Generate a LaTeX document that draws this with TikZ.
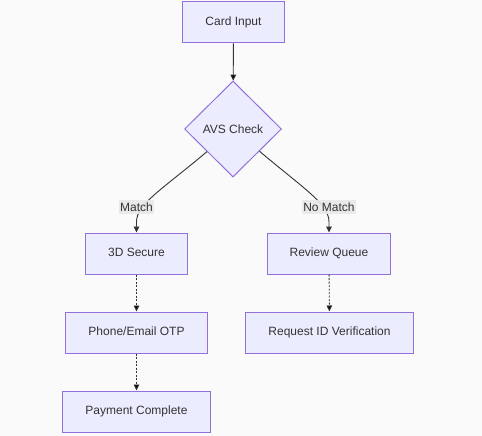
\documentclass[tikz,border=0pt]{standalone}
\usepackage{fontspec}
\setmainfont{Liberation Sans}
\usetikzlibrary{shapes.geometric,arrows.meta}
\definecolor{boxfill}{HTML}{ECECFF}
\definecolor{boxline}{HTML}{9370DB}
\definecolor{edgeline}{HTML}{333333}
\definecolor{lblfill}{HTML}{E8E8E8}
\definecolor{bgcol}{HTML}{FAFAFA}

\begin{document}
\begin{tikzpicture}[x=1pt, y=-1pt, font=\fontsize{12}{14}\selectfont, >={Triangle[length=6pt,width=5.5pt]}]
			\tikzstyle{stepbox}=[rectangle, draw=boxline, fill=boxfill, line width=1pt, minimum height=41pt, inner xsep=22.5pt, text height=9pt, text depth=2.5pt, text=edgeline]
			\tikzstyle{decision}=[diamond, aspect=1, draw=boxline, fill=boxfill, line width=1pt, minimum width=97pt, minimum height=96pt, inner sep=0pt, text=edgeline]
			\tikzstyle{flow}=[->, draw=edgeline, line width=0.9pt]
			\tikzstyle{dots}=[flow, dash pattern=on 2pt off 1.5pt]
			\tikzstyle{lbl}=[fill=lblfill, fill opacity=0.9, text opacity=1, inner xsep=1pt, inner ysep=3pt, text=edgeline]
			\fill[bgcol] (0,0) rectangle (482,436);
			\useasboundingbox (0,0) rectangle (482,436);
			
			\node[stepbox](card) at (233.5,22.5) {Card Input};
			\node[decision](avs) at (233,129) {AVS Check};
			\node[stepbox](sec3d) at (136.5,253.5) {3D Secure};
			\node[stepbox](otp) at (136.5,332.5) {Phone/Email OTP};
			\node[stepbox](pay) at (136.5,411.5) {Payment Complete};
			\node[stepbox](review) at (329,253.5) {Review Queue};
			\node[stepbox](idver) at (329.5,332.5) {Request ID Verification};
			
			\coordinate (m-bend) at (136.5,222);
			\coordinate (nm-bend) at (329,222);
			
			\path[flow] (card) edge (avs);
			\draw[flow] (avs.221) .. controls +(-45,38) and +(0,-18) .. (m-bend) -- (sec3d);
			\draw[flow] (avs.-40) .. controls +(45,38) and +(0,-18) .. (nm-bend) -- (review);
			\path[dots] (sec3d) edge (otp)
			(otp) edge (pay)
			(review) edge (idver);
			
			\node[lbl](match) at (136.5,207) {Match};
			\node[lbl](nomatch) at (329,207) {No Match};
\end{tikzpicture}
\end{document}
